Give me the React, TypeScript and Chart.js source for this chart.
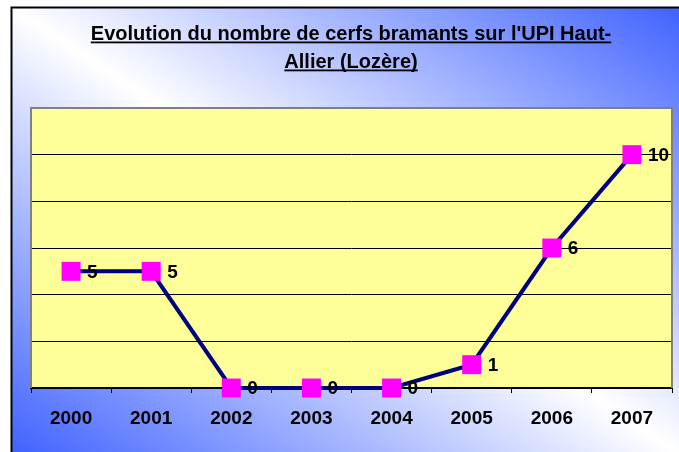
import React, { useEffect, useRef } from "react";
import { Chart, registerables } from "chart.js";

Chart.register(...registerables);

const years = ["2000", "2001", "2002", "2003", "2004", "2005", "2006", "2007"];
const stags = [5, 5, 0, 0, 0, 1, 6, 10];
const titleLines = [
  "Evolution du nombre de cerfs bramants sur l'UPI Haut-",
  "Allier (Lozère)",
];
const yMin = 0;
const yMax = 12;
const yStep = 2;

const FONT = '"Liberation Sans", Arial, Helvetica, sans-serif';

const backgroundPlugin = {
  id: "bgPlugin",
  beforeDraw(chart: any) {
    const { ctx, width, height, chartArea } = chart;
    ctx.save();
    ctx.fillStyle = "#ffffff";
    ctx.fillRect(0, 0, width, height);
    const fx = 11;
    const fy = 7;
    const fw = width - fx + 4;
    const fh = height - fy + 4;
    const cx = fx + fw / 2;
    const cy = fy + fh / 2;
    const n = Math.sqrt(fw * fw + fh * fh);
    const dx = -fh / n;
    const dy = fw / n;
    const L = (fw * fh) / n;
    const g = ctx.createLinearGradient(cx - dx * L, cy - dy * L, cx + dx * L, cy + dy * L);
    g.addColorStop(0, "#3f62ff");
    g.addColorStop(0.5, "#ffffff");
    g.addColorStop(1, "#3f62ff");
    ctx.fillStyle = g;
    ctx.fillRect(fx, fy, fw, fh);
    ctx.strokeStyle = "#000000";
    ctx.lineWidth = 2;
    ctx.beginPath();
    ctx.moveTo(fx + 0.5, height);
    ctx.lineTo(fx + 0.5, fy + 0.5);
    ctx.lineTo(width, fy + 0.5);
    ctx.stroke();

    // plot area fill
    ctx.fillStyle = "#ffff99";
    ctx.fillRect(chartArea.left, chartArea.top, chartArea.right - chartArea.left, chartArea.bottom - chartArea.top);

    // title
    ctx.fillStyle = "#000000";
    ctx.font = "bold 20px " + FONT;
    ctx.textAlign = "center";
    ctx.textBaseline = "alphabetic";
    const tx = 351;
    const baselines = [40, 68];
    titleLines.forEach((line, i) => {
      const w = ctx.measureText(line).width;
      ctx.fillText(line, tx, baselines[i]);
      ctx.fillRect(tx - w / 2, baselines[i] + 1.5, w, 1.8);
    });
    ctx.restore();
  },
  beforeDatasetsDraw(chart: any) {
    const { ctx, chartArea } = chart;
    ctx.save();
    ctx.strokeStyle = "#808080";
    ctx.lineWidth = 2;
    ctx.beginPath();
    ctx.moveTo(chartArea.left, chartArea.bottom);
    ctx.lineTo(chartArea.left, chartArea.top);
    ctx.lineTo(chartArea.right, chartArea.top);
    ctx.lineTo(chartArea.right, chartArea.bottom);
    ctx.stroke();
    ctx.restore();
  },
  afterDatasetsDraw(chart: any) {
    const { ctx } = chart;
    const meta = chart.getDatasetMeta(0);
    const data = chart.data.datasets[0].data as number[];
    ctx.save();
    ctx.fillStyle = "#000000";
    ctx.font = "bold 19px " + FONT;
    ctx.textAlign = "left";
    ctx.textBaseline = "middle";
    meta.data.forEach((pt: any, i: number) => {
      ctx.fillText(String(data[i]), pt.x + 16, pt.y + 1);
    });
    ctx.restore();
  },
};

export default function App() {
  const ref = useRef<HTMLCanvasElement | null>(null);
  useEffect(() => {
    if (!ref.current) return;
    const chart = new Chart(ref.current, {
      type: "line",
      data: {
        labels: years,
        datasets: [
          {
            data: stags,
            borderColor: "#000080",
            borderWidth: 4,
            tension: 0,
            pointStyle: "rect",
            pointRadius: 13.4,
            pointHoverRadius: 13.4,
            pointBackgroundColor: "#ff00ff",
            pointBorderColor: "#ff00ff",
            pointBorderWidth: 0,
            clip: false as any,
          },
        ],
      },
      options: {
        responsive: false,
        animation: false,
        devicePixelRatio: 1,
        layout: { autoPadding: false, padding: { left: 31, right: 7, top: 108, bottom: 12 } },
        plugins: {
          legend: { display: false },
          title: { display: false },
          tooltip: { enabled: false },
        },
        scales: {
          x: {
            offset: true,
            grid: {
              offset: true,
              drawOnChartArea: false,
              drawTicks: true,
              tickLength: 5,
              color: "#000000",
              lineWidth: 1,
            },
            border: { display: true, color: "#000000", width: 2 },
            ticks: {
              color: "#000000",
              font: { family: FONT, size: 19, weight: "bold" },
              padding: 14,
              maxRotation: 0,
            },
            afterFit: (scale: any) => {
              scale.height = 52;
            },
          },
          y: {
            min: yMin,
            max: yMax,
            ticks: { display: false, stepSize: yStep },
            grid: { color: "#000000", lineWidth: 1, drawTicks: false },
            border: { display: false },
          },
        },
      },
      plugins: [backgroundPlugin],
    });
    return () => chart.destroy();
  }, []);
  return (
    <canvas
      ref={ref}
      width={679}
      height={452}
      style={{ position: "fixed", left: 0, top: 0, width: 679, height: 452 }}
    />
  );
}
